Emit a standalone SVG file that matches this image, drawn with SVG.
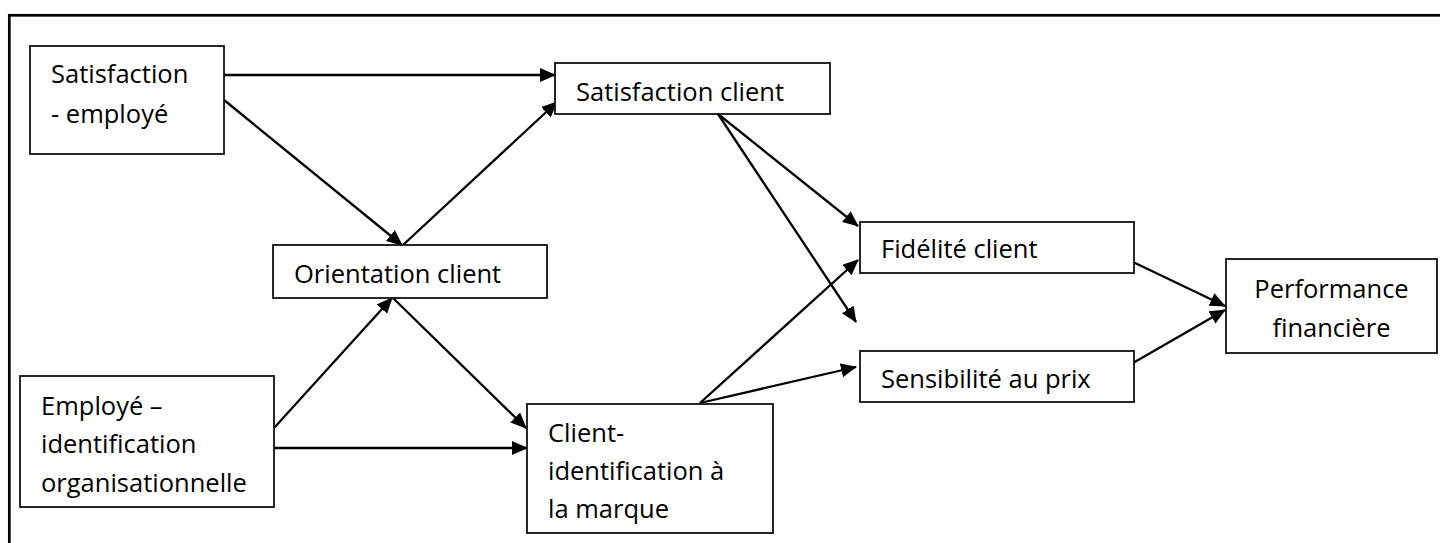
<svg xmlns="http://www.w3.org/2000/svg" width="1440" height="543" viewBox="0 0 1440 543">
<style>
.box{fill:#fff;stroke:#111;stroke-width:1.8}
.t{font-family:"Open Sans","Liberation Sans",sans-serif;font-size:25.5px;fill:#000}
.c{fill:none;stroke:#000;stroke-width:2.3;marker-end:url(#ah)}
</style>
<defs>
<marker id="ah" markerUnits="userSpaceOnUse" markerWidth="17" markerHeight="15" refX="15" refY="7" orient="auto">
<path d="M0,0 L16,7 L0,14 Z" fill="#000"/>
</marker>
</defs>
<rect width="1440" height="543" fill="#fff"/>
<rect x="9.3" y="15.3" width="1500" height="600" fill="none" stroke="#000" stroke-width="2.7"/>
<g id="connectors">
<line class="c" x1="224" y1="75" x2="555" y2="75"/>
<line class="c" x1="224" y1="100" x2="402" y2="245"/>
<line class="c" x1="403" y1="245" x2="557" y2="102"/>
<line class="c" x1="274" y1="428" x2="392" y2="298"/>
<line class="c" x1="393" y1="298" x2="526" y2="428"/>
<line class="c" x1="274" y1="448" x2="527" y2="448"/>
<line class="c" x1="718" y1="114" x2="858" y2="226"/>
<line class="c" x1="718" y1="114" x2="856" y2="322"/>
<line class="c" x1="700" y1="403" x2="858" y2="260"/>
<line class="c" x1="700" y1="403" x2="856" y2="367"/>
<line class="c" x1="1133" y1="262" x2="1225" y2="306"/>
<line class="c" x1="1133" y1="363" x2="1225" y2="310"/>
</g>
<g id="sat_emp">
<rect class="box" x="30" y="46" width="194" height="108"/>
<text class="t" x="51" y="83">Satisfaction</text>
<text class="t" x="51" y="123">- employé</text>
</g>
<g id="sat_cli">
<rect class="box" x="555" y="63" width="275" height="51"/>
<text class="t" x="576" y="101">Satisfaction client</text>
</g>
<g id="orient">
<rect class="box" x="273" y="245" width="274" height="53"/>
<text class="t" x="294" y="283">Orientation client</text>
</g>
<g id="employe">
<rect class="box" x="20" y="376" width="254" height="131"/>
<text class="t" x="41" y="415">Employé –</text>
<text class="t" x="41" y="453">identification</text>
<text class="t" x="41" y="492">organisationnelle</text>
</g>
<g id="client_id">
<rect class="box" x="527" y="404" width="246" height="129"/>
<text class="t" x="548" y="442">Client-</text>
<text class="t" x="548" y="480">identification à</text>
<text class="t" x="548" y="518">la marque</text>
</g>
<g id="fidelite">
<rect class="box" x="860" y="222" width="274" height="51"/>
<text class="t" x="881" y="258">Fidélité client</text>
</g>
<g id="sensib">
<rect class="box" x="860" y="351" width="274" height="51"/>
<text class="t" x="881" y="388">Sensibilité au prix</text>
</g>
<g id="perf">
<rect class="box" x="1226" y="259" width="211" height="94"/>
<text class="t" x="1331.5" y="298" text-anchor="middle">Performance</text>
<text class="t" x="1331.5" y="337" text-anchor="middle">financière</text>
</g>
</svg>
